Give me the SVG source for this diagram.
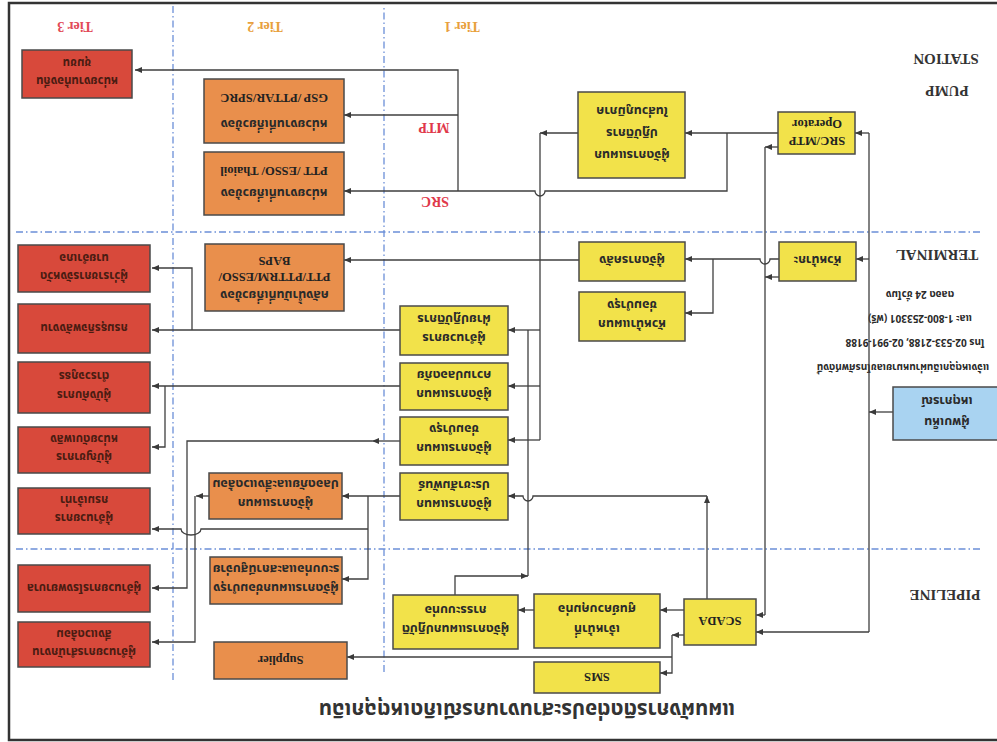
<svg xmlns="http://www.w3.org/2000/svg" width="997" height="742" viewBox="0 0 997 742">
<defs>
<marker id="a" markerWidth="8" markerHeight="7" refX="7" refY="3" orient="auto" markerUnits="userSpaceOnUse"><path d="M0,0 L7,3 L0,6 z" fill="#3a3a3a"/></marker>
<style>
.bx{stroke:#4a4a4a;stroke-width:1.5}
.y{fill:#f2e24a}.o{fill:#e98f4c}.r{fill:#d8493b}.b{fill:#a9d3f1}
.t{font-family:"Noto Sans Thai","Noto Sans","DejaVu Sans",sans-serif;font-size:12.5px;font-weight:bold;fill:#2a2a2a;text-anchor:middle}
.rt{font-family:"Noto Sans Thai","Noto Sans","DejaVu Sans",sans-serif;font-size:11.5px;font-weight:bold;fill:#4a1c12;text-anchor:middle}
.e{font-family:"Liberation Serif","Times New Roman",serif;font-weight:bold;font-size:12.5px;fill:#222;text-anchor:middle}
.lb{font-family:"Liberation Serif",serif;font-weight:bold;font-size:15px;fill:#333;text-anchor:middle}
.tier{font-family:"Liberation Serif",serif;font-weight:bold;font-size:14px;text-anchor:middle}
.ct{font-family:"Noto Sans Thai","Noto Sans","DejaVu Sans",sans-serif;font-size:10px;font-weight:bold;fill:#2a2a2a;text-anchor:middle}
.c{fill:none;stroke:#3f3f3f;stroke-width:1.3}
.ca{fill:none;stroke:#3f3f3f;stroke-width:1.3;marker-end:url(#a)}
.d{fill:none;stroke:#6b8fd8;stroke-width:1.3;stroke-dasharray:7 3 1.5 3}
</style>
</defs>
<rect width="997" height="742" fill="#ffffff"/>
<g transform="rotate(180 498.5 371)">
<rect x="-10" y="2" width="998" height="737" fill="none" stroke="#333" stroke-width="2.5"/>
<g id="grid">
<path class="d" d="M17,510 H982 M17,193 H982 M824,62 V737 M613,70 V737"/>
</g>
<g id="labels">
<text x="470" y="39" font-family="'Noto Sans Thai','Noto Sans','DejaVu Sans',sans-serif" font-size="20.5" font-weight="bold" fill="#333" text-anchor="middle">แผนผังการติดต่อประสานงานกรณีเกิดเหตุฉุกเฉิน</text>
<text class="lb" x="52" y="152">PIPELINE</text>
<text class="lb" x="60" y="492">TERMINAL</text>
<text class="lb" x="50" y="656">PUMP</text>
<text class="lb" x="51" y="688">STATION</text>
<text class="tier" x="535" y="720" fill="#e8a03c">Tier 1</text>
<text class="tier" x="732" y="720" fill="#e8a03c">Tier 2</text>
<text class="tier" x="922" y="720" fill="#e24a58">Tier 3</text>
<text class="tier" x="563" y="619" fill="#e0384a" font-size="13">MTP</text>
<text class="tier" x="562" y="545" fill="#e0384a" font-size="13">SRC</text>
<text class="ct" x="94" y="378" font-size="8.8">แจ้งเหตุฉุกเฉินผ่านหมายเลขโทรศัพท์ดังนี้</text>
<text class="ct" x="82" y="403">โทร 02-533-2188, 02-991-9188</text>
<text class="ct" x="77" y="427">และ 1-800-253301 (ฟรี)</text>
<text class="ct" x="77" y="451">ตลอด 24 ชั่วโมง</text>
</g>
<g id="connectors">
<path class="ca" d="M104,330 H128"/>
<path class="c" d="M128,110 V609"/>
<path class="ca" d="M128,609 H142"/>
<path class="ca" d="M128,483 H141"/>
<path class="ca" d="M128,110 H241"/>
<path class="c" d="M232,127 V595"/>
<path class="ca" d="M219,595 H232"/>
<path class="ca" d="M218,465 H232"/>
<path class="ca" d="M232,127 H241"/>
<path class="ca" d="M219,609 H312"/>
<path class="ca" d="M270,609 V551 H452 a5,5 0 0 1 10,0 H653"/>
<path class="ca" d="M539,551 V672 H862"/>
<path class="ca" d="M539,627 H653"/>
<path class="ca" d="M419,609 H457"/>
<path class="c" d="M457,302 V609"/>
<path class="ca" d="M457,412 H489"/>
<path class="ca" d="M457,356 H489"/>
<path class="ca" d="M457,302 H489"/>
<path class="c" d="M469,166 V412"/>
<path class="ca" d="M542,147 V166 H469"/>
<path class="ca" d="M290,143 V246"/>
<path class="ca" d="M290,246 H464 a5,5 0 0 1 10,0 H489"/>
<path class="ca" d="M313,132 H337"/>
<path class="ca" d="M463,132 H479"/>
<path class="ca" d="M313,107 H325"/>
<path class="ca" d="M325,107 V69 H337"/>
<path class="ca" d="M325,85 H650"/>
<path class="ca" d="M597,301 H625"/>
<path class="ca" d="M625,301 H810 V154 H845"/>
<path class="ca" d="M597,246 H655"/>
<path class="ca" d="M629,246 V163 H655"/>
<path class="ca" d="M629,213 H796 a10,6 0 0 1 20,0 H845"/>
<path class="ca" d="M788,246 H801"/>
<path class="ca" d="M802,246 V100 H845"/>
<path class="ca" d="M597,412 H845"/>
<path class="ca" d="M805,412 V474 H845"/>
<path class="ca" d="M597,356 H845"/>
<path class="ca" d="M832,356 V295 H845"/>
<path class="ca" d="M218,483 H227 a5,5 0 0 1 10,0 H312"/>
<path class="ca" d="M284,483 V429 H312"/>
<path class="ca" d="M418,482 H653"/>
</g>
<g id="n-witness"><rect class="bx b" x="-3" y="302" width="107" height="53"/><text class="t" x="50" y="324" font-size="13.5">ผู้พบเห็น</text><text class="t" x="50" y="345" font-size="13.5">เหตุการณ์</text></g>
<g id="n-srcmtp"><rect class="bx y" x="142" y="588" width="77" height="42"/><text class="e" x="180" y="605">SRC/MTP</text><text class="e" x="180" y="622">Operator</text></g>
<g id="n-pump-mgr"><rect class="bx y" x="312" y="564" width="107" height="86"/><text class="t" x="365" y="591">ผู้จัดการแผนก</text><text class="t" x="365" y="613">ปฏิบัติการ</text><text class="t" x="365" y="635">ในส่วนภูมิภาค</text></g>
<g id="n-shift"><rect class="bx y" x="141" y="461" width="77" height="39"/><text class="t" x="179.5" y="486">หัวหน้ากะ</text></g>
<g id="n-terminal-mgr"><rect class="bx y" x="312" y="461" width="106" height="39"/><text class="t" x="365" y="486">ผู้จัดการคลัง</text></g>
<g id="n-terminal-head"><rect class="bx y" x="312" y="401" width="106" height="49"/><text class="t" x="365" y="422">หัวหน้าแผนก</text><text class="t" x="365" y="441">ซ่อมบำรุง</text></g>
<g id="n-a"><rect class="bx y" x="489" y="387" width="108" height="49"/><text class="t" x="543" y="408">ผู้อำนวยการ</text><text class="t" x="543" y="427">ฝ่ายปฏิบัติการ</text></g>
<g id="n-b"><rect class="bx y" x="489" y="332" width="108" height="47"/><text class="t" x="543" y="352">ผู้จัดการแผนก</text><text class="t" x="543" y="371">ความปลอดภัย</text></g>
<g id="n-c"><rect class="bx y" x="489" y="277" width="108" height="48"/><text class="t" x="543" y="298">ผู้จัดการแผนก</text><text class="t" x="543" y="317">ซ่อมบำรุง</text></g>
<g id="n-d"><rect class="bx y" x="489" y="222" width="108" height="47"/><text class="t" x="543" y="242">ผู้จัดการแผนก</text><text class="t" x="543" y="261">ประชาสัมพันธ์</text></g>
<g id="n-scada"><rect class="bx y" x="241" y="97" width="72" height="46"/><text class="e" x="277" y="125" font-size="14">SCADA</text></g>
<g id="n-officer"><rect class="bx y" x="337" y="94" width="126" height="54"/><text class="t" x="400" y="117">เจ้าหน้าที่</text><text class="t" x="400" y="137">ศูนย์ควบคุมท่อ</text></g>
<g id="n-pipe-mgr"><rect class="bx y" x="479" y="93" width="125" height="54"/><text class="t" x="541.5" y="117" font-size="12">ผู้จัดการแผนกปฏิบัติ</text><text class="t" x="541.5" y="136" font-size="12">การระบบท่อ</text></g>
<g id="n-sms"><rect class="bx y" x="337" y="49" width="126" height="31"/><text class="e" x="400" y="69">SMS</text></g>
<g id="n-o1"><rect class="bx o" x="653" y="527" width="140" height="63"/><text class="t" x="723" y="553">หน่วยงานที่เกี่ยวข้อง</text><text class="e" x="723" y="575">PTT /ESSO/ Thaioil</text></g>
<g id="n-o2"><rect class="bx o" x="653" y="599" width="140" height="64"/><text class="t" x="723" y="622">หน่วยงานที่เกี่ยวข้อง</text><text class="e" x="723" y="648">GSP /PTTAR/SPRC</text></g>
<g id="n-o3"><rect class="bx o" x="653" y="431" width="139" height="67"/><text class="t" x="722.5" y="451">คลังน้ำมันที่เกี่ยวข้อง</text><text class="e" x="722.5" y="469">PTT/PTTRM/ESSO/</text><text class="e" x="722.5" y="485">BAPS</text></g>
<g id="n-o4"><rect class="bx o" x="655" y="223" width="133" height="46"/><text class="t" x="721.5" y="243">ผู้จัดการแผนก</text><text class="t" x="721.5" y="262" font-size="11.5">ปลอดภัยและสิ่งแวดล้อม</text></g>
<g id="n-o5"><rect class="bx o" x="655" y="138" width="132" height="47"/><text class="t" x="721" y="158" font-size="11.5">ผู้จัดการแผนกซ่อมบำรุง</text><text class="t" x="721" y="177" font-size="11">ระบบท่อและสถานีสูบจ่าย</text></g>
<g id="n-supplier"><rect class="bx o" x="650" y="63" width="133" height="37"/><text class="e" x="716.5" y="86" font-size="13">Supplier</text></g>
<g id="n-r1"><rect class="bx r" x="865" y="644" width="110" height="48"/><text class="rt" x="920" y="665">หน่วยงานท้องถิ่น</text><text class="rt" x="920" y="683">ชุมชน</text></g>
<g id="n-r2"><rect class="bx r" x="847" y="450" width="132" height="47"/><text class="rt" x="913" y="470">ผู้ว่าราชการจังหวัด</text><text class="rt" x="913" y="488">นายอำเภอ</text></g>
<g id="n-r3"><rect class="bx r" x="847" y="389" width="132" height="49"/><text class="rt" x="913" y="418">กรมธุรกิจพลังงาน</text></g>
<g id="n-r4"><rect class="bx r" x="847" y="329" width="132" height="51"/><text class="rt" x="913" y="351">ผู้บังคับการ</text><text class="rt" x="913" y="370">ตำรวจภูธร</text></g>
<g id="n-r5"><rect class="bx r" x="847" y="269" width="132" height="46"/><text class="rt" x="913" y="289">ผู้บัญชาการ</text><text class="rt" x="913" y="307">หน่วยดับเพลิง</text></g>
<g id="n-r6"><rect class="bx r" x="847" y="208" width="132" height="46"/><text class="rt" x="913" y="228">ผู้อำนวยการ</text><text class="rt" x="913" y="246">กรมเจ้าท่า</text></g>
<g id="n-r7"><rect class="bx r" x="847" y="130" width="132" height="47"/><text class="rt" x="913" y="158">ผู้อำนวยการโรงพยาบาล</text></g>
<g id="n-r8"><rect class="bx r" x="847" y="75" width="132" height="45"/><text class="rt" x="913" y="94">ผู้อำนวยการสำนักงาน</text><text class="rt" x="913" y="112">สิ่งแวดล้อม</text></g>
</g>
</svg>
